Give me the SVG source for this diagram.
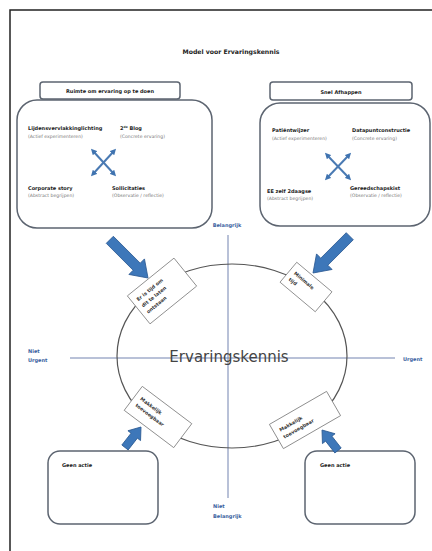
<svg xmlns="http://www.w3.org/2000/svg" width="432" height="551" viewBox="0 0 432 551">
<defs>
<style>
.t{font-family:"DejaVu Sans","Liberation Sans",sans-serif;}
.b{font-family:"DejaVu Sans","Liberation Sans",sans-serif;font-weight:bold;font-size:5px;fill:#222;}
.s{font-family:"DejaVu Sans","Liberation Sans",sans-serif;font-size:4.6px;fill:#777;}
.ax{font-family:"DejaVu Sans","Liberation Sans",sans-serif;font-weight:bold;font-size:5px;fill:#3b5fa0;}
.box{fill:#fff;stroke:#5c6470;stroke-width:1.5;}
.rb{fill:#fff;stroke:#808080;stroke-width:0.8;}
.rt{font-family:"DejaVu Sans","Liberation Sans",sans-serif;font-weight:bold;font-size:4.8px;fill:#333;}
.axis{stroke:#7283b0;stroke-width:1;fill:none;}
.blk{fill:#3d77b9;stroke:#2c5a92;stroke-width:0.8;}
.xl{stroke:#4a7ab3;stroke-width:2;marker-start:url(#xh);marker-end:url(#xh);}
</style>
<marker id="xh" viewBox="0 0 6 6" refX="3" refY="3" markerWidth="3" markerHeight="3" orient="auto-start-reverse">
<path d="M0,0 L6,3 L0,6 z" fill="#3f73b0"/>
</marker>
<path id="barrow" d="M0,-4 L-11,-4 L-11,-9 L0,0" />
</defs>
<rect width="432" height="551" fill="#fff"/>
<path d="M10,551 L10,10 L432,10" fill="none" stroke="#222" stroke-width="1.5"/>
<text class="t" x="231" y="54" text-anchor="middle" font-size="6.2" font-weight="bold" fill="#222">Model voor Ervaringskennis</text>

<g id="left-box">
<rect class="box" x="17" y="100" width="195" height="128" rx="20"/>
<rect class="box" x="40" y="82" width="140" height="17" rx="3"/>
<text class="b" x="110" y="93" text-anchor="middle">Ruimte om ervaring op te doen</text>
<text class="b" x="28" y="130">Lijdensvervlakkinglichting</text>
<text class="s" x="28" y="138">(Actief experimenteren)</text>
<text class="b" x="120" y="130">2<tspan font-size="3" dy="-2">de</tspan><tspan dy="2"> Blog</tspan></text>
<text class="s" x="120" y="138">(Concrete ervaring)</text>
<text class="b" x="28" y="190">Corporate story</text>
<text class="s" x="28" y="197">(Abstract begrijpen)</text>
<text class="b" x="112" y="190">Sollicitaties</text>
<text class="s" x="112" y="197">(Observatie / reflectie)</text>
<line class="xl" x1="93" y1="151" x2="114" y2="174"/>
<line class="xl" x1="114" y1="151" x2="93" y2="174"/>
</g>

<g id="right-box">
<rect class="box" x="260" y="103" width="170" height="123" rx="20"/>
<rect class="box" x="270" y="82" width="142" height="18" rx="3"/>
<text class="b" x="341" y="93.5" text-anchor="middle">Snel Afhappen</text>
<text class="b" x="272" y="132">Patiëntwijzer</text>
<text class="s" x="272" y="140">(Actief experimenteren)</text>
<text class="b" x="352" y="132">Datapuntconstructie</text>
<text class="s" x="352" y="140">(Concrete ervaring)</text>
<text class="b" x="267" y="193">EE zelf 2daagse</text>
<text class="s" x="267" y="200">(Abstract begrijpen)</text>
<text class="b" x="350" y="190">Gereedschapskist</text>
<text class="s" x="350" y="197">(Observatie / reflectie)</text>
<line class="xl" x1="327" y1="155" x2="349" y2="178"/>
<line class="xl" x1="349" y1="155" x2="327" y2="178"/>
</g>

<g id="axes">
<line class="axis" x1="70" y1="358" x2="395" y2="358"/>
<line class="axis" x1="228" y1="235" x2="228" y2="498"/>
<text class="ax" x="227" y="227" text-anchor="middle">Belangrijk</text>
<text class="ax" x="28" y="353">Niet</text>
<text class="ax" x="28" y="362">Urgent</text>
<text class="ax" x="403" y="361">Urgent</text>
<text class="ax" x="213" y="508">Niet</text>
<text class="ax" x="213" y="518">Belangrijk</text>
</g>

<g id="ervaringskennis">
<ellipse cx="232" cy="356" rx="115" ry="92" fill="none" stroke="#555" stroke-width="1.2"/>
<text class="t" x="229" y="362" text-anchor="middle" font-size="15" fill="#444">Ervaringskennis</text>
</g>

<g id="label-ul" transform="translate(162,291) rotate(-39)">
<rect class="rb" x="-30" y="-18" width="60" height="36"/>
<text class="rt" x="-25" y="-7">Er is tijd om</text>
<text class="rt" x="-25" y="1">dit te laten</text>
<text class="rt" x="-25" y="9">ontstaan</text>
</g>
<g id="label-ur" transform="translate(306,287) rotate(40)">
<rect class="rb" x="-23" y="-13" width="46" height="26"/>
<text class="rt" x="-18" y="-2">Minimale</text>
<text class="rt" x="-18" y="6">tijd</text>
</g>
<g id="label-ll" transform="translate(158,417) rotate(37)">
<rect class="rb" x="-31" y="-15" width="62" height="30"/>
<text class="rt" x="-25" y="-3">Makkelijk</text>
<text class="rt" x="-25" y="5">toevoegbaar</text>
</g>
<g id="label-lr" transform="translate(305,420) rotate(-30)">
<rect class="rb" x="-33" y="-14" width="66" height="28"/>
<text class="rt" x="-27" y="-2">Makkelijk</text>
<text class="rt" x="-27" y="6">toevoegbaar</text>
</g>

<g id="geen-actie-left">
<rect class="box" x="48" y="451" width="110" height="73" rx="12"/>
<text class="b" x="62" y="467">Geen actie</text>
</g>
<g id="geen-actie-right">
<rect class="box" x="305" y="451" width="110" height="73" rx="12"/>
<text class="b" x="320" y="467">Geen actie</text>
</g>

<g id="connectors">
<path class="blk" transform="translate(148,278) rotate(45)" d="M-54,-5 L-16,-5 L-16,-11 L0,0 L-16,11 L-16,5 L-54,5 z"/>
<path class="blk" transform="translate(313,273) rotate(135)" d="M-52,-5 L-16,-5 L-16,-11 L0,0 L-16,11 L-16,5 L-52,5 z"/>
<path class="blk" transform="translate(141,427) rotate(-52)" d="M-26,-4 L-11,-4 L-11,-8 L0,0 L-11,8 L-11,4 L-26,4 z"/>
<path class="blk" transform="translate(322,430) rotate(232)" d="M-26,-4 L-11,-4 L-11,-8 L0,0 L-11,8 L-11,4 L-26,4 z"/>
</g>
</svg>
